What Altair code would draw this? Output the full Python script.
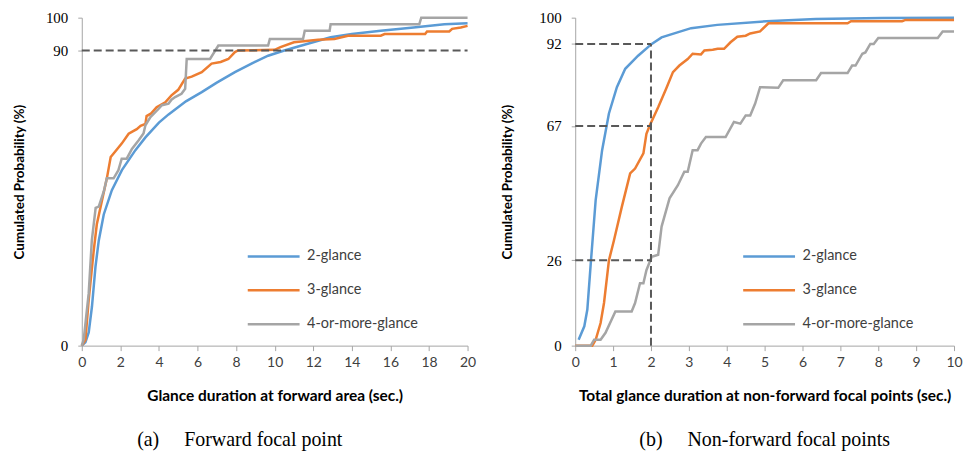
import altair as alt
import pandas as pd

SERIES = ["2-glance", "3-glance", "4-or-more-glance"]
COLORS = ["#5B9BD5", "#ED7D31", "#A5A5A5"]

# ---------- Panel (a): Forward focal point ----------
a2_x = [0, 0.19, 0.36, 0.53, 0.71, 0.88, 1.14, 1.56, 2.08, 2.78, 3.3, 4.0, 4.5, 5.4, 6.22, 7.0,
        7.94, 8.8, 9.66, 10.5, 11.4, 12.9, 14.0, 15.5, 17.2, 18.8, 20]
a2_y = [0, 1, 4, 12, 24, 32, 40, 47.4, 53.5, 59.6, 63.5, 68, 70.5, 74.5, 77.3, 80.2,
        83.4, 86, 88.4, 90, 91.5, 94, 95, 96, 97, 98, 98.3]

a3_x = [0, 0.19, 0.36, 0.62, 0.78, 1.04, 1.3, 1.5, 1.65, 2.07, 2.43, 2.85, 3.05, 3.3, 3.36, 3.6,
        3.88, 4.33, 4.65, 5.0, 5.36, 5.7, 6.22, 6.73, 7.2, 7.6, 7.94, 8.1, 10.0, 10.3, 11.0,
        12.25, 13.1, 13.8, 15.5, 15.7, 17.8, 17.9, 19.05, 19.2, 19.65, 20]
a3_y = [0, 1.8, 14, 29, 37, 44, 51, 57.5, 58.6, 61.6, 64.6, 66, 67, 67.6, 70, 70.8,
        72.7, 74.2, 76.3, 78, 81.4, 82, 83.4, 86, 86.5, 87.4, 89.5, 90, 90.2, 91, 92.5,
        93.3, 93.5, 94.5, 94.5, 95, 95, 95.8, 95.8, 96.6, 97, 97.5]

a4_x = [0, 0.1, 0.36, 0.52, 0.72, 0.88, 1.14, 1.3, 1.65, 1.9, 2.07, 2.33, 2.6, 2.95, 3.2, 3.3,
        3.56, 4.0, 4.15, 4.5, 4.65, 4.84, 5.17, 5.36, 5.44, 6.65, 7.08, 9.66, 9.75, 11.47,
        11.56, 12.85, 12.9, 17.5, 17.6, 20]
a4_y = [0, 1.8, 16, 32, 42, 42.4, 47, 51, 51, 53.5, 57, 57, 60, 62.6, 64.7, 67.2,
        69.7, 72.3, 73.3, 73.8, 75, 75.8, 76.8, 78.3, 87.4, 87.4, 91.5, 91.5, 93.5, 93.5,
        96, 96, 98, 98, 100, 100]

a_xticks = [0, 2, 4, 6, 8, 10, 12, 14, 16, 18, 20]
a_yticks = [0, 90, 100]
a_href_y = [90]
a_href_x0 = [0]
a_href_x1 = [20]

# ---------- Panel (b): Non-forward focal points ----------
b2_x = [0.09, 0.24, 0.32, 0.41, 0.54, 0.71, 0.89, 1.1, 1.32, 1.66, 2.02, 2.28, 2.7, 3.06,
        3.75, 5.05, 6.35, 8.1, 10]
b2_y = [1.8, 5.9, 11, 25, 44.4, 59.6, 70.8, 78.8, 84.4, 88.4, 92, 94, 95.5, 96.8,
        97.8, 98.9, 99.6, 99.9, 100]

b3_x = [0, 0.45, 0.54, 0.67, 0.76, 0.89, 1.02, 1.23, 1.45, 1.58, 1.8, 1.88, 1.97, 2.19, 2.4,
        2.58, 2.75, 2.97, 3.1, 3.32, 3.41, 3.63, 3.76, 3.93, 4.1, 4.28, 4.5, 4.62, 4.88,
        5.1, 7.19, 7.28, 8.63, 8.72, 10]
b3_y = [0, 0, 1.8, 6.9, 13, 26, 32, 42.3, 52.5, 54, 58.6, 64.6, 67.2, 72.7, 78.3,
        83.4, 85.4, 87.4, 89, 88.8, 90, 90.2, 90.5, 90.5, 92.5, 94.2, 94.5, 95.2, 95.8,
        98.3, 98.3, 98.9, 98.9, 99.3, 99.3]

b4_x = [0, 0.41, 0.5, 0.67, 0.8, 1.06, 1.49, 1.58, 1.71, 1.8, 1.88, 2.02, 2.19, 2.28, 2.49,
        2.71, 2.88, 2.97, 3.1, 3.23, 3.32, 3.45, 3.97, 4.19, 4.36, 4.5, 4.62, 4.75, 4.88,
        5.36, 5.49, 6.36, 6.49, 7.19, 7.31, 7.4, 7.58, 7.66, 7.79, 7.88, 8.0, 9.57, 9.7, 10]
b4_y = [0, 0, 1.8, 1.8, 3.9, 10.4, 10.4, 13, 19, 19, 23, 27.1, 27.7, 36.3, 44.9,
        48.9, 53, 53, 59.6, 59.6, 61.6, 63.6, 63.6, 68.2, 67.7, 70.2, 70.2, 73.8, 78.8,
        78.6, 80.9, 80.9, 83.1, 83.1, 85.4, 85.4, 89, 89.4, 92, 92, 93.8, 93.8, 95.8, 95.8]

b_xticks = [0, 1, 2, 3, 4, 5, 6, 7, 8, 9, 10]
b_yticks = [0, 26, 67, 92, 100]
b_href_y = [92, 67, 26]
b_href_x0 = [0, 0, 0]
b_href_x1 = [2, 2, 2]
b_vref_x = [2]
b_vref_y0 = [0]
b_vref_y1 = [92]

SANS = "Lato"
SERIF = "Liberation Serif"
DASH_COLOR = "#595959"
AXIS_COLOR = "#A6A6A6"


def long_df(xs, ys):
    frames = [pd.DataFrame({"x": x, "y": y, "series": s}) for s, x, y in zip(SERIES, xs, ys)]
    return pd.concat(frames, ignore_index=True)


def panel(df, xmax, xticks, xtitle, yticks, hy, hx0, hx1, caption, cap_dx, ytitle_pad, width,
          legend_x, vx=None, vy0=None, vy1=None):
    xs = alt.Scale(domain=[0, xmax], nice=False, zero=True)
    ys = alt.Scale(domain=[0, 100], nice=False)
    xaxis = alt.Axis(
        values=xticks, title=xtitle, grid=False, domainColor=AXIS_COLOR, tickColor=AXIS_COLOR,
        tickSize=5, labelFont=SANS, labelFontSize=14, labelColor="#404040", labelPadding=5,
        titleFont=SANS, titleFontSize=15.5, titleFontWeight="bold", titleColor="#000000",
        titlePadding=19, labelFlush=False)
    yaxis = alt.Axis(
        values=yticks, title="Cumulated Probability (%)", grid=False, domainColor=AXIS_COLOR,
        tickColor=AXIS_COLOR, tickSize=4, labelFont=SERIF, labelFontSize=15,
        labelColor="#000000", labelPadding=10, titleFont=SANS, titleFontSize=13.5,
        titleFontWeight="bold", titleColor="#000000", titlePadding=ytitle_pad)
    lines = alt.Chart(df).mark_line(strokeWidth=2.5).encode(
        x=alt.X("x:Q", scale=xs, axis=xaxis),
        y=alt.Y("y:Q", scale=ys, axis=yaxis),
        color=alt.Color("series:N", scale=alt.Scale(domain=SERIES, range=COLORS),
                        legend=alt.Legend(title=None, orient="none", legendX=legend_x, legendY=212,
                                          symbolType="stroke", symbolSize=2704,
                                          symbolStrokeWidth=2.5, labelFont=SANS,
                                          labelFontSize=14.5, labelColor="#404040",
                                          rowPadding=-17, labelOffset=6)),
    )
    hdf = pd.DataFrame({"y": hy, "x": hx0, "x2": hx1})
    hrule = alt.Chart(hdf).mark_rule(strokeDash=[8, 4], strokeWidth=2, color=DASH_COLOR).encode(
        y=alt.Y("y:Q", scale=ys, axis=yaxis), x=alt.X("x:Q", scale=xs, axis=xaxis), x2="x2:Q")
    layers = [lines, hrule]
    if vx is not None:
        vdf = pd.DataFrame({"x": vx, "y": vy0, "y2": vy1})
        vrule = alt.Chart(vdf).mark_rule(strokeDash=[8, 4], strokeWidth=2, color=DASH_COLOR).encode(
            x=alt.X("x:Q", scale=xs, axis=xaxis), y=alt.Y("y:Q", scale=ys, axis=yaxis), y2="y2:Q")
        layers.append(vrule)
    return alt.layer(*layers).properties(
        width=width, height=329,
        title=alt.TitleParams(text=caption, orient="bottom", font=SERIF, fontSize=20,
                              fontWeight="normal", color="#000000", offset=26, dx=cap_dx,
                              anchor="middle"))


left = panel(long_df([a2_x, a3_x, a4_x], [a2_y, a3_y, a4_y]), 20, a_xticks,
             "Glance duration at forward area (sec.)", a_yticks, a_href_y, a_href_x0, a_href_x1,
             "(a)" + "\u00a0" * 5 + "Forward focal point", -35, 18.5, 387, 165)
right = panel(long_df([b2_x, b3_x, b4_x], [b2_y, b3_y, b4_y]), 10, b_xticks,
              "Total glance duration at non-forward focal points  (sec.)", b_yticks, b_href_y,
              b_href_x0, b_href_x1, "(b)" + "\u00a0" * 5 + "Non-forward focal points", 0, 24.5,
              380, 167, b_vref_x, b_vref_y0, b_vref_y1)

chart = alt.hconcat(left, right, spacing=24).resolve_legend(color="independent").properties(
    padding={"left": 5, "top": 2, "right": 0, "bottom": 0}
).configure_view(stroke=None)

chart.save("out.html", embed_options={"renderer": "svg", "actions": False})
